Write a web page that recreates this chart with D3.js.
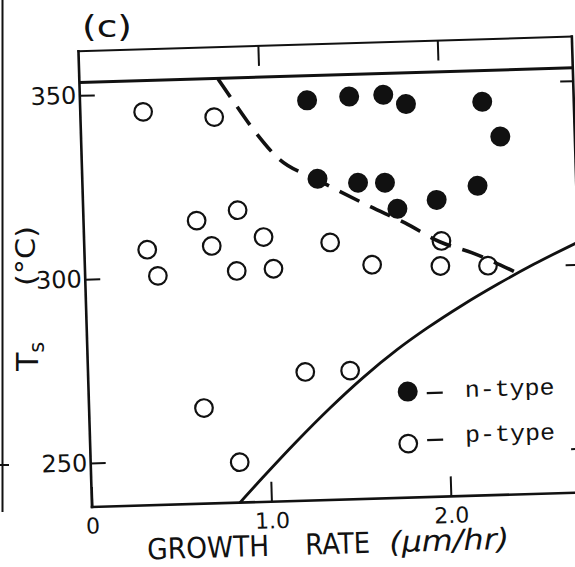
<!DOCTYPE html>
<html>
<head>
<meta charset="utf-8">
<script src="https://cdn.jsdelivr.net/npm/d3@7"></script>
<style>
  html, body { margin: 0; padding: 0; background: #fff; }
  svg { display: block; }
</style>
</head>
<body>
<svg id="chart" width="575" height="567"></svg>
<script>
// Substrate temperature Ts (°C) against growth rate (µm/hr), n-type vs p-type films

// n-type samples (filled circles)
const nTypeRate = [1.265, 1.50, 1.69, 1.815, 2.24, 2.335, 1.31, 1.535, 1.685, 1.75, 1.97, 2.20];
const nTypeTemp = [346.8, 347.5, 347.7, 345.0, 345.0, 335.4, 325.4, 324.0, 323.8, 316.6, 318.7, 322.2];

// p-type samples (open circles)
const pTypeRate = [0.35, 0.745, 0.35, 0.405, 0.63, 0.71, 0.86, 0.845, 1.00, 1.05,
                   1.37, 1.60, 1.99, 1.98, 2.245, 1.21, 1.46, 0.64, 0.83];
const pTypeTemp = [345.0, 343.0, 307.5, 300.3, 315.0, 308.0, 317.5, 301.0, 310.0, 301.3,
                   308.0, 301.6, 307.5, 300.7, 300.4, 273.0, 273.0, 264.0, 249.0];

// dashed n/p boundary
const boundaryRate = [0.772, 0.847, 0.97, 1.09, 1.31, 1.60, 1.79, 1.98, 2.16, 2.395];
const boundaryTemp = [353.4, 347.7, 338.7, 331.5, 325.1, 317.4, 312.7, 307.3, 304.0, 298.5];

// solid limit curve
const limitRate = [0.825, 0.957, 1.153, 1.342, 1.531, 1.725, 1.895, 2.10, 2.30, 2.50, 2.76];
const limitTemp = [238.0, 244.7, 254.3, 263.0, 271.0, 278.3, 283.9, 290.0, 295.4, 300.4, 306.3];

// upper horizontal limit line
const upperTemp = 353.5;

const xTicks = [0, 1, 2];
const xTopTicks = [1, 2];
const yTicks = [250, 300, 350];
const xTickLabels = ["0", "1.0", "2.0"];
const legendLabels = ["n-type", "p-type"];

const svg = d3.select("#chart");
const ink = "#111";

const x = d3.scaleLinear().domain([0, 2.75]).range([92, 585.6]);
const y = d3.scaleLinear().domain([238, 362]).range([507, 51]);

// whole plot is drawn slightly tilted
const g = svg.append("g").attr("transform", "rotate(-1.7, 93, 507)");

const [x0, x1] = x.domain();
const [y0, y1] = y.domain();

// frame
const frame = [
  [[x0, y1], [x0, y0]],
  [[x0, y0], [x1, y0]],
  [[x0, y1], [x1, y1]],
  [[x1, y1], [x1, y0]]
];
g.selectAll("line.frame").data(frame).join("line")
  .attr("class", "frame")
  .attr("x1", d => x(d[0][0])).attr("y1", d => y(d[0][1]))
  .attr("x2", d => x(d[1][0])).attr("y2", d => y(d[1][1]))
  .attr("stroke", ink).attr("stroke-width", (d, i) => i === 2 ? 2 : 2.6)
  .attr("stroke-linecap", "square");

g.append("line")
  .attr("x1", x(x0)).attr("x2", x(x1))
  .attr("y1", y(upperTemp)).attr("y2", y(upperTemp))
  .attr("stroke", ink).attr("stroke-width", 3);

function styleAxis(sel, fontSize) {
  sel.select(".domain").remove();
  sel.selectAll(".tick line").attr("stroke", ink).attr("stroke-width", 2);
  sel.selectAll(".tick text")
    .attr("fill", ink)
    .attr("font-family", "'DejaVu Sans', sans-serif")
    .attr("font-size", fontSize);
}

// left axis: inward ticks, labels outside
g.append("g")
  .attr("transform", `translate(${x(x0)},0)`)
  .call(d3.axisLeft(y).tickValues(yTicks).tickSizeInner(-15).tickSizeOuter(0).tickPadding(3.5))
  .call(s => styleAxis(s, 24));

// right axis: inward ticks only
g.append("g")
  .attr("transform", `translate(${x(x1)},0)`)
  .call(d3.axisRight(y).tickValues(yTicks).tickSizeInner(-13).tickSizeOuter(0).tickFormat(""))
  .call(s => styleAxis(s, 10));

// bottom axis
g.append("g")
  .attr("transform", `translate(0,${y(y0)})`)
  .call(d3.axisBottom(x).tickValues(xTicks).tickSizeInner(-20).tickSizeOuter(0).tickPadding(11)
    .tickFormat((d, i) => xTickLabels[i]))
  .call(s => styleAxis(s, 22));

// top axis: inward ticks only
g.append("g")
  .attr("transform", `translate(0,${y(y1)})`)
  .call(d3.axisTop(x).tickValues(xTopTicks).tickSizeInner(-20).tickSizeOuter(0).tickFormat(""))
  .call(s => styleAxis(s, 10));

// curves
const line = d3.line().x(d => x(d[0])).y(d => y(d[1])).curve(d3.curveMonotoneX);

g.append("path")
  .datum(limitRate.map((r, i) => [r, limitTemp[i]]))
  .attr("d", line)
  .attr("fill", "none").attr("stroke", ink).attr("stroke-width", 2.8);

g.append("path")
  .datum(boundaryRate.map((r, i) => [r, boundaryTemp[i]]))
  .attr("d", line)
  .attr("fill", "none").attr("stroke", ink).attr("stroke-width", 3.6)
  .attr("stroke-dasharray", "22,12");

// samples
g.selectAll("circle.p").data(pTypeRate.map((r, i) => [r, pTypeTemp[i]])).join("circle")
  .attr("class", "p")
  .attr("cx", d => x(d[0])).attr("cy", d => y(d[1])).attr("r", 8.8)
  .attr("fill", "none").attr("stroke", ink).attr("stroke-width", 2.2);

g.selectAll("circle.n").data(nTypeRate.map((r, i) => [r, nTypeTemp[i]])).join("circle")
  .attr("class", "n")
  .attr("cx", d => x(d[0])).attr("cy", d => y(d[1])).attr("r", 10)
  .attr("fill", ink);

// legend
const legend = g.append("g");
const legendRows = [
  { label: legendLabels[0], filled: true, cx: 411, cy: 401, tx: 468, ty: 408, dy: 403 },
  { label: legendLabels[1], filled: false, cx: 410, cy: 453, tx: 467, ty: 453, dy: 450 }
];
legendRows.forEach(row => {
  legend.append("circle")
    .attr("cx", row.cx).attr("cy", row.cy).attr("r", row.filled ? 10 : 8.8)
    .attr("fill", row.filled ? ink : "none")
    .attr("stroke", row.filled ? "none" : ink).attr("stroke-width", 2.2);
  legend.append("line")
    .attr("x1", row.cx + 19).attr("x2", row.cx + 35)
    .attr("y1", row.dy).attr("y2", row.dy)
    .attr("stroke", ink).attr("stroke-width", 2.2);
  legend.append("text")
    .attr("x", row.tx).attr("y", row.ty)
    .attr("font-family", "'Liberation Mono', 'DejaVu Sans Mono', monospace")
    .attr("font-size", 23)
    .attr("textLength", 90).attr("lengthAdjust", "spacingAndGlyphs")
    .attr("fill", ink)
    .text(row.label);
});

// x-axis title
const xTitle = [
  { text: "GROWTH", x: 146, y: 561, len: 122, style: "normal" },
  { text: "RATE", x: 304, y: 561, len: 65, style: "normal" },
  { text: "(μm/hr)", x: 388, y: 561, len: 120, style: "italic" }
];
g.selectAll("text.xtitle").data(xTitle).join("text")
  .attr("class", "xtitle")
  .attr("x", d => d.x).attr("y", d => d.y)
  .attr("font-family", "'DejaVu Sans', sans-serif")
  .attr("font-size", 29)
  .attr("font-style", d => d.style)
  .attr("textLength", d => d.len).attr("lengthAdjust", "spacingAndGlyphs")
  .attr("fill", ink)
  .text(d => d.text);

// y-axis title
const yTitle = svg.append("text")
  .attr("transform", "translate(38,371) rotate(-90)")
  .attr("font-family", "'DejaVu Sans', sans-serif")
  .attr("fill", ink);
yTitle.append("tspan").attr("font-size", 30).text("T");
yTitle.append("tspan").attr("font-size", 21).attr("dy", 6).text("s");

svg.append("text")
  .attr("transform", "translate(35,286) rotate(-90)")
  .attr("font-family", "'DejaVu Sans', sans-serif")
  .attr("font-size", 27)
  .attr("textLength", 60).attr("lengthAdjust", "spacingAndGlyphs")
  .attr("fill", ink)
  .text("(°C)");

// panel label
svg.append("text")
  .attr("x", 82).attr("y", 37)
  .attr("font-family", "'DejaVu Sans', sans-serif")
  .attr("font-size", 30)
  .attr("textLength", 50).attr("lengthAdjust", "spacingAndGlyphs")
  .attr("fill", ink)
  .text("(c)");

// edge of the neighbouring panel
svg.append("line").attr("x1", 2.5).attr("x2", 2.5).attr("y1", 0).attr("y2", 512)
  .attr("stroke", ink).attr("stroke-width", 2);
svg.append("line").attr("x1", 0).attr("x2", 9).attr("y1", 465).attr("y2", 465)
  .attr("stroke", ink).attr("stroke-width", 2);
</script>
</body>
</html>
